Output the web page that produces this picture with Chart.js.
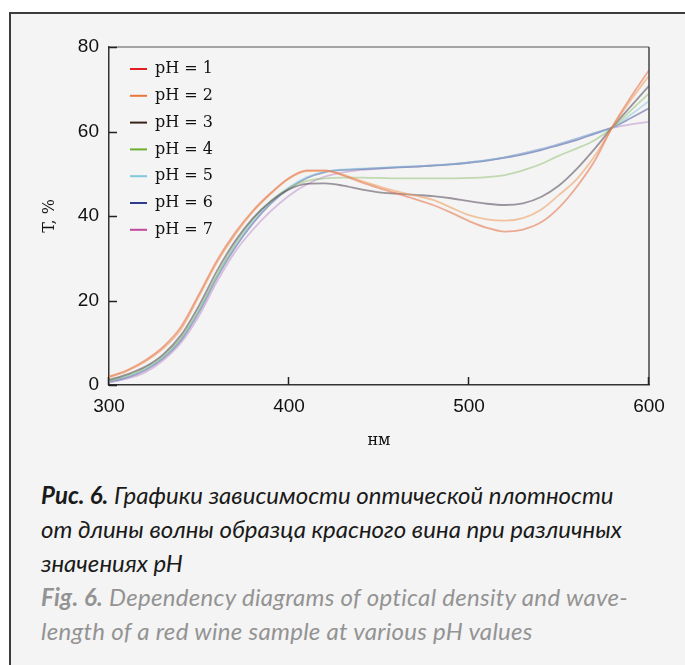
<!DOCTYPE html>
<html>
<head>
<meta charset="utf-8">
<script src="https://cdn.jsdelivr.net/npm/chart.js@4.4.1/dist/chart.umd.min.js"></script>
<style>
  html, body { margin: 0; padding: 0; background: #fff; }
  body { width: 685px; height: 665px; position: relative; overflow: hidden; }
  .box {
    position: absolute; left: 9px; top: 12px; width: 700px; height: 700px;
    border-left: 2px solid #3c3c3c; border-top: 2px solid #3c3c3c;
    background: #f4f4f4;
  }
  #wrap { position: absolute; left: 0; top: 0; width: 685px; height: 470px; }
  .caption {
    position: absolute; left: 41px; top: 478px; width: 640px;
    font-family: Lato, "Open Sans", sans-serif; font-style: italic;
    font-size: 24px; line-height: 34px; color: #1a1a1a;
  }
  .caption b { font-weight: 700; }
  .caption .en { color: #939393; letter-spacing: 0.3px; }
</style>
</head>
<body>
<div class="box"></div>
<div id="wrap"><canvas id="grafik" width="685" height="470"></canvas></div>
<div class="caption">
  <div><b>Рис. 6.</b> Графики зависимости оптической плотности<br>от длины волны образца красного вина при различных<br>значениях pH</div>
  <div class="en"><b>Fig. 6.</b> Dependency diagrams of optical density and wave-<br>length of a red wine sample at various pH values</div>
</div>

<script>
// === DATA ===
const wavelengths = [300, 310, 320, 330, 340, 350, 360, 370, 380, 390, 400, 410, 420, 430, 440, 450,
                     460, 470, 480, 490, 500, 510, 520, 530, 540, 550, 560, 570, 580, 590, 600];

const seriesLabels = ["pH = 1", "pH = 2", "pH = 3", "pH = 4", "pH = 5", "pH = 6", "pH = 7"];

const ph1 = [2.0, 3.5, 5.8, 9.0, 13.8, 21.5, 29.5, 36.0, 41.3, 45.5, 49.0, 50.8, 50.8, 49.6, 48.0, 46.6,
             45.3, 44.0, 42.6, 40.8, 38.8, 37.2, 36.3, 36.8, 38.5, 42.0, 47.0, 53.2, 61.4, 68.2, 74.5];
const ph2 = [1.8, 3.3, 5.5, 8.6, 13.2, 21.0, 29.0, 35.5, 41.0, 45.3, 48.8, 50.6, 50.6, 49.8, 48.3, 47.0,
             45.8, 44.8, 43.8, 42.0, 40.2, 39.2, 38.9, 39.5, 41.5, 45.0, 48.8, 54.3, 61.2, 67.5, 73.2];
const ph3 = [1.2, 2.5, 4.3, 7.2, 11.8, 18.8, 27.0, 34.0, 39.5, 43.5, 46.3, 47.6, 47.7, 47.2, 46.3, 45.6,
             45.3, 45.0, 44.7, 44.2, 43.5, 42.9, 42.6, 43.0, 44.5, 47.2, 51.2, 56.0, 61.2, 66.0, 70.8];
const ph4 = [1.0, 2.2, 4.0, 6.8, 11.2, 18.0, 26.0, 33.5, 39.3, 43.6, 46.6, 48.3, 48.9, 49.1, 49.1, 49.0,
             48.9, 48.9, 48.9, 48.9, 49.0, 49.2, 49.7, 50.8, 52.3, 54.3, 56.0, 58.0, 61.0, 65.0, 69.0];
const ph5 = [0.9, 2.0, 3.8, 6.6, 11.0, 17.6, 25.8, 33.0, 38.8, 43.3, 46.8, 49.2, 50.5, 51.0, 51.2, 51.4,
             51.6, 51.8, 52.0, 52.3, 52.7, 53.2, 53.9, 54.8, 55.8, 57.0, 58.3, 59.7, 61.0, 64.0, 67.2];
const ph6 = [0.8, 1.8, 3.5, 6.3, 10.6, 17.3, 25.5, 32.5, 38.3, 43.0, 46.5, 49.0, 50.4, 50.9, 51.1, 51.3,
             51.5, 51.7, 51.9, 52.2, 52.6, 53.1, 53.8, 54.6, 55.6, 56.8, 58.0, 59.5, 61.0, 63.2, 65.5];
const ph7 = [0.6, 1.5, 3.0, 5.8, 10.0, 16.4, 24.5, 31.5, 36.8, 41.2, 44.8, 47.5, 49.3, 50.3, 50.9, 51.2,
             51.5, 51.7, 52.0, 52.3, 52.7, 53.2, 53.9, 54.8, 55.8, 57.0, 58.3, 59.7, 60.9, 61.7, 62.3];

const xTicks = [300, 400, 500, 600];
const yTicks = [0, 20, 40, 60, 80];

// warna legenda dan warna garis (lebih pudar seperti gambar asli)
const legendColors = ["#e0201f", "#e8783a", "#3b2218", "#6cae2e", "#80c8dc", "#2e3c8e", "#c04a9c"];
const lineColors = ["rgba(232,120,80,0.6)", "rgba(240,160,100,0.6)", "rgba(80,70,85,0.55)",
                    "rgba(150,195,120,0.55)", "rgba(130,195,220,0.5)", "rgba(80,90,160,0.55)",
                    "rgba(185,135,200,0.5)"];

const allSeries = [ph1, ph2, ph3, ph4, ph5, ph6, ph7];

// === PLUGIN: bingkai, tick ke dalam, legenda ===
const framePlugin = {
  id: "frame",
  afterDraw(chart) {
    const ctx = chart.ctx;
    const a = chart.chartArea;
    const xs = chart.scales.x, ys = chart.scales.y;
    ctx.save();
    // garis atas & kanan
    ctx.lineWidth = 1.5;
    ctx.strokeStyle = "#8a8a8a";
    ctx.beginPath();
    ctx.moveTo(a.left, a.top); ctx.lineTo(a.right, a.top);
    ctx.stroke();
    ctx.strokeStyle = "#444";
    ctx.beginPath();
    ctx.moveTo(a.right, a.top); ctx.lineTo(a.right, a.bottom);
    ctx.stroke();
    // tick ke dalam
    ctx.strokeStyle = "#222";
    ctx.lineWidth = 1.5;
    yTicks.forEach(v => {
      const y = Math.round(ys.getPixelForValue(v)) + 0.5;
      ctx.beginPath(); ctx.moveTo(a.left, y); ctx.lineTo(a.left + 8, y); ctx.stroke();
    });
    xTicks.forEach(v => {
      const x = Math.round(xs.getPixelForValue(v)) - 0.5;
      ctx.beginPath(); ctx.moveTo(x, a.bottom); ctx.lineTo(x, a.bottom - 8); ctx.stroke();
    });
    // legenda
    ctx.font = "16px 'DejaVu Serif'";
    ctx.textBaseline = "middle";
    ctx.fillStyle = "#111";
    chart.data.datasets.forEach((ds, i) => {
      const y = a.top + 22 + i * 26.8;
      ctx.strokeStyle = legendColors[i];
      ctx.lineWidth = 2;
      ctx.beginPath(); ctx.moveTo(a.left + 21, y); ctx.lineTo(a.left + 38, y); ctx.stroke();
      ctx.fillText(ds.label, a.left + 46, y);
    });
    ctx.restore();
  }
};

const datasets = allSeries.map((arr, i) => ({
  label: seriesLabels[i],
  data: arr.map((v, j) => ({ x: wavelengths[j], y: v })),
  borderColor: lineColors[i],
  backgroundColor: lineColors[i],
  borderWidth: 1.8,
  pointRadius: 0,
  cubicInterpolationMode: "monotone",
  fill: false
}));

new Chart(document.getElementById("grafik").getContext("2d"), {
  type: "line",
  data: { datasets: datasets },
  options: {
    responsive: false,
    animation: false,
    layout: { padding: { left: 0, right: 36, top: 47, bottom: 0 } },
    plugins: { legend: { display: false }, tooltip: { enabled: false } },
    scales: {
      x: {
        type: "linear", min: 300, max: 600,
        afterBuildTicks: s => { s.ticks = xTicks.map(v => ({ value: v })); },
        afterFit: s => { s.height = 85; },
        grid: { display: false, drawTicks: false },
        border: { display: true, color: "#333", width: 1.5 },
        ticks: { color: "#111", font: { family: "'Liberation Sans', Arial", size: 19 }, padding: 10, maxRotation: 0 },
        title: { display: true, text: "нм", color: "#111",
                 font: { family: "'DejaVu Serif'", size: 16 }, padding: { top: 0, bottom: 20 } }
      },
      y: {
        min: 0, max: 80,
        afterBuildTicks: s => { s.ticks = yTicks.map(v => ({ value: v })); },
        afterFit: s => { s.width = 109; },
        grid: { display: false, drawTicks: false },
        border: { display: true, color: "#333", width: 1.5 },
        ticks: { color: "#111", font: { family: "'Liberation Sans', Arial", size: 19 }, padding: 10 },
        title: { display: true, text: "T, %", color: "#111",
                 font: { family: "'DejaVu Serif'", size: 16 }, padding: { top: 40, bottom: 0 } }
      }
    }
  },
  plugins: [framePlugin]
});
</script>
</body>
</html>
